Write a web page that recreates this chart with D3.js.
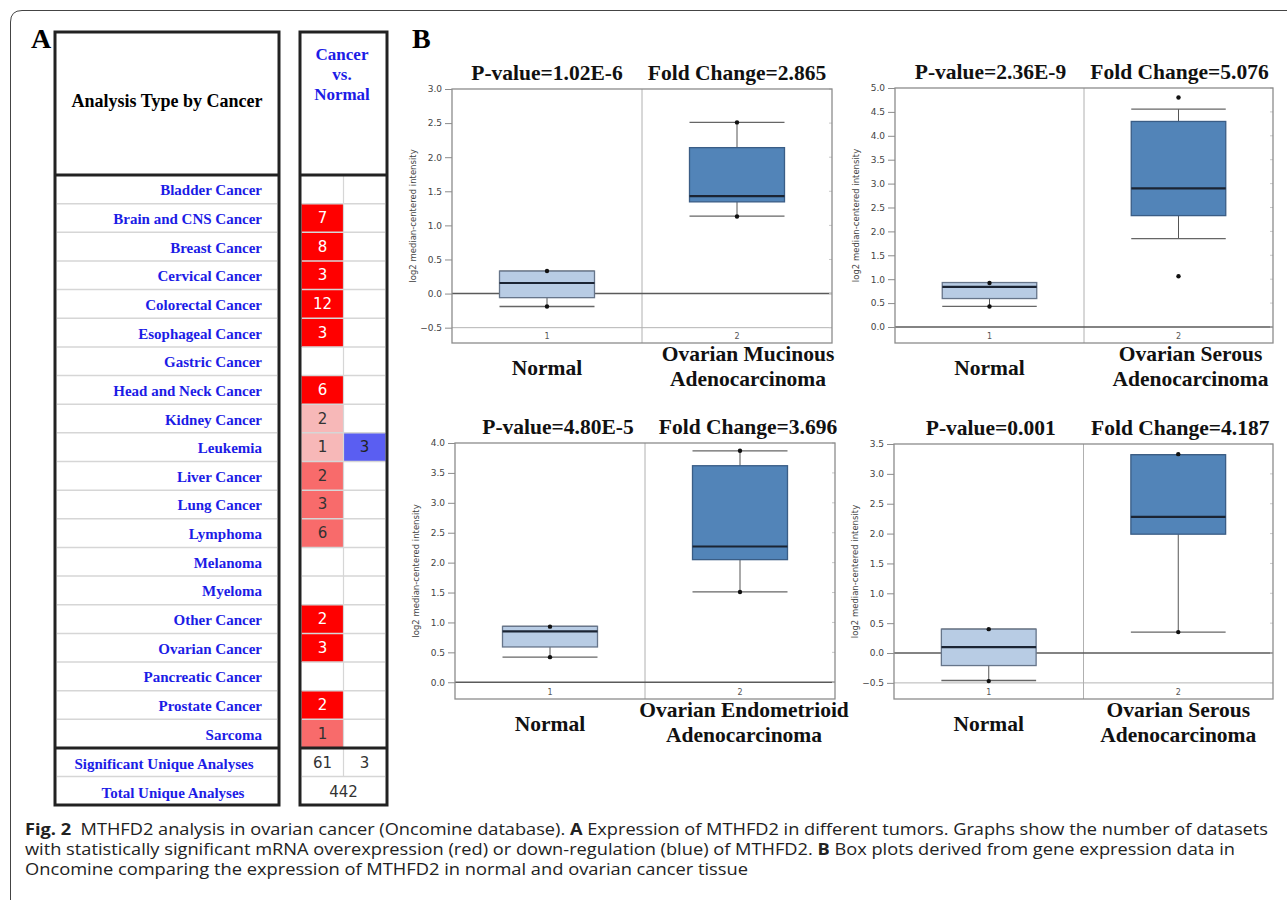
<!DOCTYPE html>
<html>
<head>
<meta charset="utf-8">
<script src="https://cdn.jsdelivr.net/npm/d3@7"></script>
<style>
body{margin:0;background:#fff;}
svg{display:block;}
</style>
</head>
<body>
<script>
//table data (panel A)
var cancerTypes = ["Bladder Cancer","Brain and CNS Cancer","Breast Cancer","Cervical Cancer","Colorectal Cancer",
    "Esophageal Cancer","Gastric Cancer","Head and Neck Cancer","Kidney Cancer","Leukemia","Liver Cancer",
    "Lung Cancer","Lymphoma","Melanoma","Myeloma","Other Cancer","Ovarian Cancer","Pancreatic Cancer",
    "Prostate Cancer","Sarcoma"];
var overCounts  = [0,7,8,3,12,3,0,6,2,1,2,3,6,0,0,2,3,0,2,1];
var overRank    = [0,1,1,1,1,1,0,1,10,10,5,5,5,0,0,1,1,0,1,5]; //gene rank tier (top %)
var underCounts = [0,0,0,0,0,0,0,0,0,3,0,0,0,0,0,0,0,0,0,0];
var sigUnique = [61, 3];
var totalUnique = 442;

//box plot data (panel B)
var pValues = ["1.02E-6","2.36E-9","4.80E-5","0.001"];
var foldChanges = ["2.865","5.076","3.696","4.187"];
var tumorLabels = [["Ovarian Mucinous","Adenocarcinoma"],["Ovarian Serous","Adenocarcinoma"],
    ["Ovarian Endometrioid","Adenocarcinoma"],["Ovarian Serous","Adenocarcinoma"]];
var yMin = [-0.725, -0.335, -0.28, -0.77];
var yMax = [3.0, 5.0, 4.0, 3.5];
//min, q1, median, q3, max
var normalBox = [[-0.19,-0.06,0.155,0.33,0.33],[0.43,0.595,0.84,0.93,0.93],[0.42,0.59,0.85,0.935,0.935],[-0.46,-0.21,0.10,0.40,0.40]];
var tumorBox  = [[1.135,1.345,1.43,2.14,2.51],[1.85,2.33,2.90,4.30,4.56],[1.51,2.05,2.27,3.62,3.87],[0.35,1.99,2.28,3.32,3.32]];
var normalPoints = [[0.33,-0.19],[0.92,0.43],[0.93,0.42],[0.40,-0.47]];
var tumorPoints  = [[2.51,1.13],[4.80,1.06],[3.87,1.51],[3.33,0.35]];

var serif = '"Liberation Serif","Times New Roman",serif';
var sans = '"DejaVu Sans",sans-serif';

var svg = d3.select("body").append("svg")
    .attr("width", 1287)
    .attr("height", 900);

//outer frame
svg.append("path")
    .attr("d", "M1287,10.5 H22 Q10.5,10.5 10.5,22 V900")
    .attr("fill", "none")
    .attr("stroke", "#444");

//panel labels
svg.append("text").attr("x", 31).attr("y", 48).text("A")
    .style("font-family", serif).style("font-weight", "bold").style("font-size", "28px");
svg.append("text").attr("x", 412).attr("y", 48).text("B")
    .style("font-family", serif).style("font-weight", "bold").style("font-size", "28px");

drawTable();
for (var i = 0; i < 4; i++) drawBox(i);
drawCaption();

function drawTable(){
    var headBottom = 175, bodyBottom = 748, tblTop = 32, tblBottom = 805;
    var rowY = d3.scaleBand().domain(cancerTypes).range([headBottom, bodyBottom]);
    var sumY = d3.scaleBand().domain(["sig","total"]).range([bodyBottom, tblBottom]);
    var colX = d3.scaleBand().domain(["over","under"]).range([301.5, 385.5]);
    var tierColor = d3.scaleOrdinal().domain([1,5,10]).range(["#ff0000","#f86b6b","#f7b8b8"]);
    var blue = "#1c1ce6";

    var rows = cancerTypes.map(function(d, i){
        return {name: d, over: overCounts[i], rank: overRank[i], under: underCounts[i]};
    });

    //cells
    var over = svg.selectAll(".over").data(rows.filter(function(d){ return d.over > 0; }))
        .enter().append("g").attr("class", "over");
    over.append("rect")
        .attr("x", colX("over")).attr("y", function(d){ return rowY(d.name); })
        .attr("width", colX.bandwidth()).attr("height", rowY.bandwidth())
        .attr("fill", function(d){ return tierColor(d.rank); });
    over.append("text")
        .attr("x", colX("over") + colX.bandwidth()/2)
        .attr("y", function(d){ return rowY(d.name) + rowY.bandwidth()/2 + 5; })
        .attr("text-anchor", "middle")
        .style("font-family", sans).style("font-size", "15px")
        .attr("fill", function(d){ return d.rank == 1 ? "#fff" : "#333"; })
        .text(function(d){ return d.over; });

    var under = svg.selectAll(".under").data(rows.filter(function(d){ return d.under > 0; }))
        .enter().append("g").attr("class", "under");
    under.append("rect")
        .attr("x", colX("under")).attr("y", function(d){ return rowY(d.name); })
        .attr("width", colX.bandwidth()).attr("height", rowY.bandwidth())
        .attr("fill", "#5a5ef2");
    under.append("text")
        .attr("x", colX("under") + colX.bandwidth()/2)
        .attr("y", function(d){ return rowY(d.name) + rowY.bandwidth()/2 + 5; })
        .attr("text-anchor", "middle")
        .style("font-family", sans).style("font-size", "15px")
        .attr("fill", "#222")
        .text(function(d){ return d.under; });

    //light row separators
    var seps = cancerTypes.slice(1).map(function(d){ return rowY(d); }).concat([sumY("total")]);
    seps.forEach(function(yy){
        svg.append("line").attr("x1", 57).attr("x2", 277).attr("y1", yy).attr("y2", yy)
            .attr("stroke", "#d6d6d6").attr("stroke-width", 1.5);
        svg.append("line").attr("x1", 302).attr("x2", 385).attr("y1", yy).attr("y2", yy)
            .attr("stroke", "#d6d6d6").attr("stroke-width", 1.5);
    });
    svg.append("line").attr("x1", colX("under")).attr("x2", colX("under"))
        .attr("y1", headBottom).attr("y2", sumY("total"))
        .attr("stroke", "#d6d6d6").attr("stroke-width", 1.2);

    //row labels
    svg.selectAll(".rowLabel").data(cancerTypes).enter().append("text")
        .attr("class", "rowLabel")
        .attr("x", 262)
        .attr("y", function(d){ return rowY(d) + rowY.bandwidth()/2 + 6; })
        .attr("text-anchor", "end")
        .style("font-family", serif).style("font-weight", "bold").style("font-size", "15px")
        .attr("fill", blue)
        .text(function(d){ return d; });

    //summary rows
    svg.append("text").attr("x", 164).attr("y", sumY("sig") + 21).attr("text-anchor", "middle")
        .style("font-family", serif).style("font-weight", "bold").style("font-size", "15px")
        .attr("fill", blue).text("Significant Unique Analyses");
    svg.append("text").attr("x", 173).attr("y", sumY("total") + 21).attr("text-anchor", "middle")
        .style("font-family", serif).style("font-weight", "bold").style("font-size", "15px")
        .attr("fill", blue).text("Total Unique Analyses");
    svg.selectAll(".sig").data(sigUnique).enter().append("text")
        .attr("x", function(d, i){ return colX(["over","under"][i]) + colX.bandwidth()/2; })
        .attr("y", sumY("sig") + 20)
        .attr("text-anchor", "middle")
        .style("font-family", sans).style("font-size", "15px").attr("fill", "#333")
        .text(function(d){ return d; });
    svg.append("text").attr("x", 343.5).attr("y", sumY("total") + 20).attr("text-anchor", "middle")
        .style("font-family", sans).style("font-size", "15px").attr("fill", "#333")
        .text(totalUnique);

    //headers
    svg.append("text").attr("x", 167).attr("y", 107).attr("text-anchor", "middle")
        .style("font-family", serif).style("font-weight", "bold").style("font-size", "18px")
        .text("Analysis Type by Cancer");
    ["Cancer","vs.","Normal"].forEach(function(t, i){
        svg.append("text").attr("x", 342).attr("y", 60 + i*20).attr("text-anchor", "middle")
            .style("font-family", serif).style("font-weight", "bold").style("font-size", "17px")
            .attr("fill", blue).text(t);
    });

    //thick borders
    [[55, 279], [300, 387]].forEach(function(c){
        svg.append("rect").attr("x", c[0]).attr("y", tblTop)
            .attr("width", c[1]-c[0]).attr("height", tblBottom - tblTop)
            .attr("fill", "none").attr("stroke", "#222").attr("stroke-width", 3);
        [headBottom, bodyBottom].forEach(function(yy){
            svg.append("line").attr("x1", c[0]).attr("x2", c[1]).attr("y1", yy).attr("y2", yy)
                .attr("stroke", "#222").attr("stroke-width", 3);
        });
    });
}

function drawBox(i){
    var panels = [
        {x0:452, x1:832, y0:89, y1:343, tx:0, lx:11},
        {x0:895, x1:1273, y0:88, y1:343, tx:1, lx:12},
        {x0:455, x1:835, y0:443, y1:699, tx:8, lx:4},
        {x0:894, x1:1273, y0:444, y1:699, tx:2, lx:0}
    ];
    var p = panels[i];
    var y = d3.scaleLinear().domain([yMin[i], yMax[i]]).range([p.y1, p.y0]);
    var x = d3.scaleBand().domain(["1","2"]).range([p.x0, p.x1]);
    var bw = x.bandwidth();
    var ticks = d3.range(Math.ceil(yMin[i]*2)/2, yMax[i] + 0.001, 0.5);
    var g = svg.append("g");

    //negative tick lines and zero line
    ticks.filter(function(t){ return t < 0; }).forEach(function(t){
        g.append("line").attr("x1", p.x0).attr("x2", p.x1).attr("y1", y(t)).attr("y2", y(t))
            .attr("stroke", "#b5b5b5");
    });
    g.append("line").attr("x1", x("2")).attr("x2", x("2")).attr("y1", p.y0).attr("y2", p.y1)
        .attr("stroke", "#b0b0b0");
    g.append("line").attr("x1", p.x0).attr("x2", p.x1).attr("y1", y(0)).attr("y2", y(0))
        .attr("stroke", "#5a5a5a").attr("stroke-width", 1.4);

    //right side small ticks
    ticks.forEach(function(t){
        g.append("line").attr("x1", p.x1 - 3).attr("x2", p.x1).attr("y1", y(t)).attr("y2", y(t))
            .attr("stroke", "#c8c8c8");
    });

    //frame
    g.append("rect").attr("x", p.x0).attr("y", p.y0)
        .attr("width", p.x1 - p.x0).attr("height", p.y1 - p.y0)
        .attr("fill", "none").attr("stroke", "#8c8c8c").attr("stroke-width", 1.3);

    //y axis
    var axis = g.append("g").attr("transform", "translate(" + p.x0 + ",0)")
        .call(d3.axisLeft(y).tickValues(ticks).tickFormat(d3.format(".1f")).tickSize(7).tickPadding(3));
    axis.select(".domain").remove();
    axis.selectAll(".tick line").attr("stroke", "#8c8c8c");
    axis.selectAll(".tick text").attr("fill", "#444")
        .style("font-family", sans).style("font-size", "9px");

    g.append("text")
        .attr("transform", "translate(" + (p.x0 - 36) + "," + ((p.y0 + p.y1)/2) + ") rotate(-90)")
        .attr("text-anchor", "middle")
        .style("font-family", sans).style("font-size", "8.5px").attr("fill", "#444")
        .text("log2 median-centered intensity");

    //boxes
    var groups = [
        {key:"1", s:normalBox[i], pts:normalPoints[i], fill:"#b8cce4", stroke:"#66758a"},
        {key:"2", s:tumorBox[i], pts:tumorPoints[i], fill:"#5284b8", stroke:"#3a5d86"}
    ];
    groups.forEach(function(d){
        var cx = x(d.key) + bw/2, half = bw*0.25;
        var s = d.s;
        g.append("line").attr("x1", cx).attr("x2", cx).attr("y1", y(s[0])).attr("y2", y(s[1]))
            .attr("stroke", "#555");
        g.append("line").attr("x1", cx).attr("x2", cx).attr("y1", y(s[3])).attr("y2", y(s[4]))
            .attr("stroke", "#555");
        [s[0], s[4]].forEach(function(v){
            g.append("line").attr("x1", cx - half).attr("x2", cx + half).attr("y1", y(v)).attr("y2", y(v))
                .attr("stroke", "#666").attr("stroke-width", 1.3);
        });
        g.append("rect").attr("x", cx - half).attr("y", y(s[3]))
            .attr("width", half*2).attr("height", y(s[1]) - y(s[3]))
            .attr("fill", d.fill).attr("stroke", d.stroke).attr("stroke-width", 1.3);
        g.append("line").attr("x1", cx - half).attr("x2", cx + half).attr("y1", y(s[2])).attr("y2", y(s[2]))
            .attr("stroke", "#1b2433").attr("stroke-width", 2.2);
        g.selectAll(null).data(d.pts).enter().append("circle")
            .attr("cx", cx).attr("cy", function(v){ return y(v); }).attr("r", 2.2)
            .attr("fill", "#111");
        g.append("text").attr("x", cx).attr("y", p.y1 - 4).attr("text-anchor", "middle")
            .style("font-family", sans).style("font-size", "8px").attr("fill", "#555")
            .text(d.key);
    });

    //titles and group names
    var c1 = x("1") + bw/2, c2 = x("2") + bw/2;
    var big = function(sel){
        return sel.style("font-family", serif).style("font-weight", "bold").style("font-size", "21.5px")
            .attr("text-anchor", "middle").attr("fill", "#111");
    };
    big(svg.append("text").attr("x", c1 + p.tx).attr("y", p.y0 - 9).text("P-value=" + pValues[i]));
    big(svg.append("text").attr("x", c2 + p.tx).attr("y", p.y0 - 9).text("Fold Change=" + foldChanges[i]));
    big(svg.append("text").attr("x", c1).attr("y", p.y1 + 32).text("Normal"));
    tumorLabels[i].forEach(function(t, k){
        big(svg.append("text").attr("x", c2 + p.lx).attr("y", p.y1 + 18 + k*25).text(t));
    });
}

function drawCaption(){
    var lines = [
        {y:835, len:1243, parts:[["Fig. 2",1],["\u00a0\u00a0MTHFD2 analysis in ovarian cancer (Oncomine database). ",0],["A",1],[" Expression of MTHFD2 in different tumors. Graphs show the number of datasets",0]]},
        {y:855, len:1210, parts:[["with statistically significant mRNA overexpression (red) or down-regulation (blue) of MTHFD2. ",0],["B",1],[" Box plots derived from gene expression data in",0]]},
        {y:874.5, len:723, parts:[["Oncomine comparing the expression of MTHFD2 in normal and ovarian cancer tissue",0]]}
    ];
    lines.forEach(function(l){
        var t = svg.append("text").attr("x", 25).attr("y", l.y)
            .attr("textLength", l.len).attr("lengthAdjust", "spacingAndGlyphs")
            .style("font-family", '"Open Sans","Noto Sans",sans-serif').style("font-size", "16px")
            .attr("fill", "#222").attr("xml:space", "preserve");
        l.parts.forEach(function(pt){
            t.append("tspan").text(pt[0]).style("font-weight", pt[1] ? "bold" : "normal");
        });
    });
}
</script>
</body>
</html>
